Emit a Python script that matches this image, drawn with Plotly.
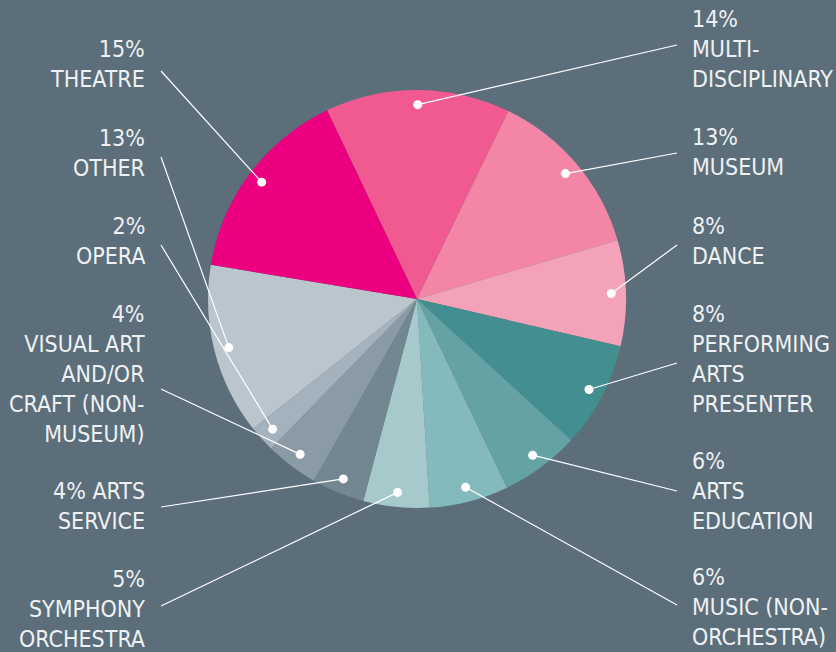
import math
import plotly.graph_objects as go

# ---- data ----
categories = ["MULTI-DISCIPLINARY", "MUSEUM", "DANCE", "PERFORMING ARTS PRESENTER",
              "ARTS EDUCATION", "MUSIC (NON-ORCHESTRA)", "SYMPHONY ORCHESTRA",
              "ARTS SERVICE", "VISUAL ART AND/OR CRAFT (NON-MUSEUM)", "OPERA",
              "OTHER", "THEATRE"]
values = [14, 13, 8, 8, 6, 6, 5, 4, 4, 2, 13, 15]
label_texts = ["14%<br>MULTI-<br>DISCIPLINARY", "13%<br>MUSEUM", "8%<br>DANCE",
               "8%<br>PERFORMING<br>ARTS<br>PRESENTER", "6%<br>ARTS<br>EDUCATION",
               "6%<br>MUSIC (NON-<br>ORCHESTRA)", "5%<br>SYMPHONY<br>ORCHESTRA",
               "4% ARTS<br>SERVICE", "4%<br>VISUAL ART<br>AND/OR<br>CRAFT (NON-<br>MUSEUM)",
               "2%<br>OPERA", "13%<br>OTHER", "15%<br>THEATRE"]
colors = ["#f05a91", "#f386a7", "#f4a2ba", "#438f90", "#64a2a4", "#84babb",
          "#a6cacc", "#738791", "#8a9ba5", "#a3b2bc", "#bbc5cd", "#ec0080"]

# ---- layout constants (pixels) ----
W, H = 836, 652
CX, CY, R = 417, 299, 209
ROT = -25.5
DOT_R = 0.93
BG = "#5b6e7a"
TXT = "#eef1f3"
# label side, text anchor (x, y-center), line start (x, y)
label_pos = [
    ("right", 690, 49, 677, 45),
    ("right", 690, 152, 677, 153),
    ("right", 690, 241, 677, 245),
    ("right", 690, 359, 677, 363),
    ("right", 690, 491, 677, 491),
    ("right", 690, 607, 677, 605),
    ("left", 147, 609, 161, 606),
    ("left", 147, 506, 161, 507),
    ("left", 147, 374, 161, 389),
    ("left", 147, 241, 161, 245),
    ("left", 147, 153, 161, 157),
    ("left", 147, 64, 161, 71),
]


def px(x):
    return x / W


def py(y):
    return 1 - y / H


fig = go.Figure()
fig.add_trace(go.Pie(
    labels=categories, values=values, sort=False, direction="clockwise",
    rotation=ROT, textinfo="none", hoverinfo="label+percent",
    marker=dict(colors=colors, line=dict(width=0)),
    domain=dict(x=[px(CX - R), px(CX + R)], y=[py(CY + R), py(CY - R)]),
    showlegend=False,
))

total = sum(values)
shapes = []
annotations = []
cum = 0
for i, v in enumerate(values):
    mid = ROT + (cum + v / 2) / total * 360
    cum += v
    a = math.radians(mid)
    dx = CX + DOT_R * R * math.sin(a)
    dy = CY - DOT_R * R * math.cos(a)
    side, tx, ty, lx, ly = label_pos[i]
    shapes.append(dict(type="line", xref="paper", yref="paper", layer="above",
                       x0=px(lx), y0=py(ly), x1=px(dx), y1=py(dy),
                       line=dict(color="white", width=1.2)))
    rd = 4.5
    shapes.append(dict(type="circle", xref="paper", yref="paper", layer="above",
                       x0=px(dx - rd), x1=px(dx + rd), y0=py(dy + rd), y1=py(dy - rd),
                       fillcolor="white", line=dict(width=0)))
    annotations.append(dict(
        x=px(tx), y=py(ty), xref="paper", yref="paper", text=label_texts[i],
        showarrow=False, xanchor="left" if side == "right" else "right",
        yanchor="middle", align="left" if side == "right" else "right",
        font=dict(family="DejaVu Sans", size=23, color=TXT)))

fig.update_layout(
    width=W, height=H, margin=dict(l=0, r=0, t=0, b=0),
    paper_bgcolor=BG, plot_bgcolor=BG,
    shapes=shapes, annotations=annotations,
)
fig.write_html("out.html", config={"displayModeBar": False})

with open("out.html", encoding="utf-8") as f:
    html = f.read()
html = html.replace("<body>", '<body style="margin:0;padding:0;">', 1)
html = html.replace(
    "<head>",
    "<head><style>html,body{margin:0;padding:0;background:%s;}"
    ".annotation-text{font-stretch:condensed !important;}</style>" % BG, 1)
with open("out.html", "w", encoding="utf-8") as f:
    f.write(html)
